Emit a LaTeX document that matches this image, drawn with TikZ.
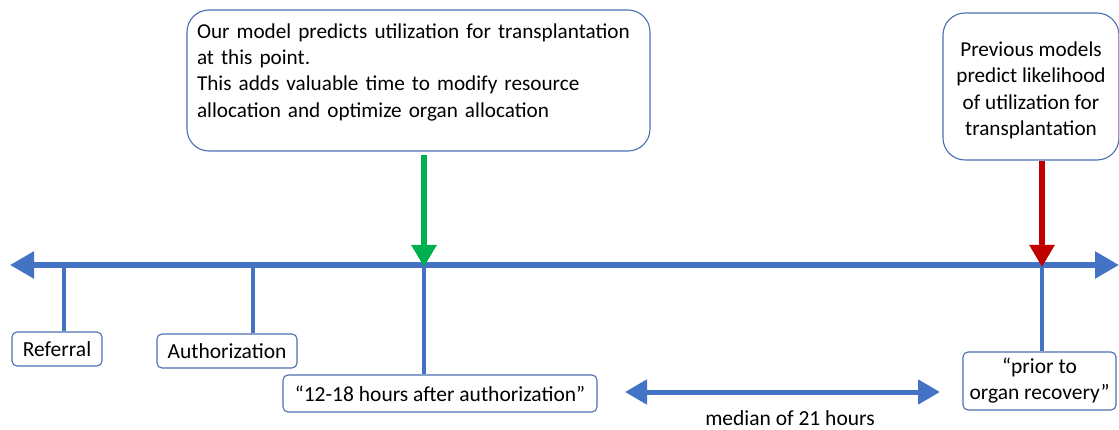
\documentclass[tikz,border=0pt]{standalone}
\usepackage{fontspec}
\setmainfont{Carlito}
\usetikzlibrary{arrows.meta}
\definecolor{axisblue}{HTML}{4472C4}
\definecolor{boxblue}{HTML}{4A6FB0}
\definecolor{okgreen}{HTML}{00B050}
\definecolor{darkred}{HTML}{C00000}
\tikzset{
  lbl/.style={draw=boxblue, line width=1.1pt, rounded corners=5pt, fill=white,
    font=\fontsize{21.5}{26}\selectfont, inner sep=0pt, align=center},
  callout/.style={draw=boxblue, line width=1.1pt, rounded corners=22pt, fill=white,
    font=\fontsize{21.2}{26.3}\selectfont, inner sep=0pt},
  axisline/.style={axisblue, line width=5.5pt},
  tick/.style={axisblue, line width=4.5pt},
  pointer/.style={line width=5.5pt, -{Triangle[length=22pt,width=24pt]}},
}
\begin{document}
\begin{tikzpicture}[x=1pt,y=-1pt]
\useasboundingbox (0,0) rectangle (1119,430);

% time axis, arrows at both ends
\coordinate (axL) at (10,265);
\coordinate (axR) at (1119,265);
\draw[axisline, {Triangle[length=24pt,width=26pt]}-{Triangle[length=24pt,width=26pt]}] (axL) -- (axR);

% event labels below the axis
\node[lbl, minimum width=90pt, minimum height=34pt] (ref) at (57,349) {Referral};
\node[lbl, minimum width=140pt, minimum height=34pt] (auth) at (227,351) {Authorization};
\node[lbl, minimum width=314pt, minimum height=37pt] (hrs) at (440,393.5) {\textquotedblleft 12-18 hours after authorization\textquotedblright};
\node[lbl, minimum width=153pt, minimum height=58pt] (rec) at (1039.5,381) {\textquotedblleft prior to\\organ recovery\textquotedblright};

% points on the axis
\coordinate (tRef) at (64,265);
\coordinate (tAuth) at (253,265);
\coordinate (tOur) at (424,265);
\coordinate (tPrev) at (1042,265);

% ticks from the axis down to the labels
\draw[tick] (tRef) -- (tRef |- ref.north);
\draw[tick] (tAuth) -- (tAuth |- auth.north);
\draw[tick] (tOur) -- (tOur |- hrs.north);
\draw[tick] (tPrev) -- (tPrev |- rec.north);

% callouts above the axis
\node[callout, minimum width=463pt, minimum height=141pt, text width=443pt, align=left] (our) at (418.5,80.5)
  {Our model predicts utilization for transplantation\\at this point.\\This adds valuable time to modify resource\\allocation and optimize organ allocation\\[-6pt]\mbox{}};
\node[callout, minimum width=176pt, minimum height=147pt, align=center] (prev) at (1031,86.5)
  {Previous models\\predict likelihood\\of utilization for\\transplantation\\[-30.3pt]\mbox{}};

\draw[pointer, okgreen] (tOur |- our.south) ++(0,3) -- ([yshift=-2pt]tOur);
\draw[pointer, darkred] (tPrev |- prev.south) -- ([yshift=-2pt]tPrev);

% interval between the two prediction points
\coordinate (mL) at (625,392);
\coordinate (mR) at (940,392);
\draw[axisblue, line width=5pt, {Triangle[length=22pt,width=24pt]}-{Triangle[length=22pt,width=24pt]}] (mL) -- (mR);
\node[font=\fontsize{21.5}{26}\selectfont, inner sep=0pt] (med) at (790,418) {median of 21 hours};
\end{tikzpicture}
\end{document}
